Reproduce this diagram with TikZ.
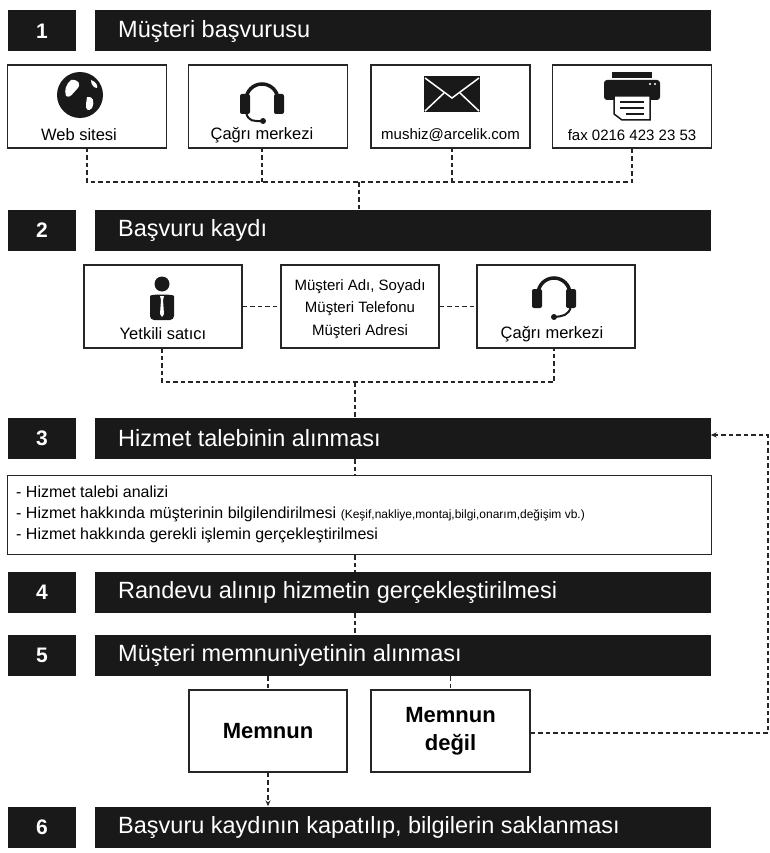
\documentclass[tikz,border=0pt]{standalone}
\usepackage{fontspec}
\setmainfont{Liberation Sans}
\usetikzlibrary{arrows.meta}
\begin{document}
\begin{tikzpicture}[x=1pt,y=-1pt,
  numbox/.style={fill=black!90,minimum width=68,minimum height=41,inner sep=0,text=white,font=\fontsize{21}{21}\selectfont\bfseries},
  bar/.style={fill=black!90,minimum width=616,minimum height=41,inner sep=0},
  bartext/.style={anchor=west,text=white,font=\fontsize{23.5}{23.5}\selectfont,inner sep=0},
  wbox/.style={draw=black!85,line width=1.3pt,fill=white,inner sep=0},
  lbl/.style={font=\fontsize{16.5}{16.5}\selectfont,inner sep=0},
  dsh/.style={dashed,dash pattern=on 4.5pt off 3pt,line width=1.5pt,black!85},
  ic/.style={fill=black!90,draw=none}]
\useasboundingbox (0,0) rectangle (770,853);
% bars
\foreach \n/\y/\t in {1/31/Müşteri başvurusu,2/230.5/Başvuru kaydı,3/438.5/Hizmet talebinin alınması,4/592.5/Randevu alınıp hizmetin gerçekleştirilmesi,5/655.5/Müşteri memnuniyetinin alınması,6/827/{Başvuru kaydının kapatılıp, bilgilerin saklanması}}{
  \node[numbox] (n\n) at (42,\y) {\n};
  \node[bar] (b\n) at (402.5,\y) {};
  \node[bartext] (t\n) at (118,\y) {\t};
}
% row 1
\node[wbox,minimum width=159,minimum height=83] (w) at (87,106.5) {};
\node[wbox,minimum width=159,minimum height=83] (c) at (268,106.5) {};
\node[wbox,minimum width=159,minimum height=83] (m) at (450.5,106.5) {};
\node[wbox,minimum width=159,minimum height=83] (f) at (632,106.5) {};
\node[lbl] (wl) at (79,135) {Web sitesi};
\node[lbl] (cl) at (262,135) {Çağrı merkezi};
\node[lbl,font=\fontsize{15}{15}\selectfont] (ml) at (450.5,135) {mushiz@arcelik.com};
\node[lbl,font=\fontsize{15}{15}\selectfont] (fl) at (632,135) {fax 0216 423 23 53};
% globe
\fill[black!90] (80,95) circle (23);
\fill[white] (71,80) .. controls (78,79) and (82,84) .. (77,89) .. controls (73,93) and (70,99) .. (66,96) .. controls (64,90) and (66,84) .. (71,80);
\fill[white] (87,97) .. controls (93,96) and (95,101) .. (92,108) .. controls (89,112) and (85,110) .. (86,104) -- cycle;
\fill[white] (91,80) .. controls (96,82) and (98,85) .. (97,88) .. controls (94,88) and (91,85) .. (91,80);
% headset 1
\draw[line width=3.5pt,black!90] (246,100) arc (180:360:16);
\fill[ic,rounded corners=2] (240,94) rectangle (250,114);
\fill[ic,rounded corners=2] (274,94) rectangle (284,114);
\draw[line width=2pt,black!90] (246,112) .. controls (248,122) and (254,121) .. (262,121);
\fill[black!90] (263,121) circle (3);
% envelope
\fill[ic] (424,76) rectangle (480,112);
\draw[white,line width=1.5pt] (425,78) -- (452,98) -- (479,78);
\draw[white,line width=1.5pt] (425,111) -- (444,93) (479,111) -- (460,93);
% fax
\fill[ic] (612,72) rectangle (652,78);
\fill[ic,rounded corners=3] (604,80) rectangle (660,100);
\fill[white] (650,84) circle (1.2) (655,84) circle (1.2);
\filldraw[fill=white,draw=black!90,line width=1.5pt] (614,96) -- (650,96) -- (650,120) -- (622,120) -- (614,114) -- cycle;
\draw[black!90,line width=1.8pt] (620,102) -- (644,102) (620,108) -- (644,108) (626,114) -- (644,114);
% dashed row 1
\coordinate (j1) at (359,182);
\draw[dsh] (87,148) -- (87,182) -- (632,182) -- (632,148);
\draw[dsh] (262,148) -- (262,182);
\draw[dsh] (452,148) -- (452,182);
\draw[dsh] (j1) -- (b2.north -| j1);
% row 2
\node[wbox,minimum width=158,minimum height=83] (y) at (163,306.5) {};
\node[wbox,minimum width=158,minimum height=83] (d) at (360,306.5) {};
\node[wbox,minimum width=158,minimum height=83] (c2) at (556,306.5) {};
\node[lbl] (yl) at (163,334) {Yetkili satıcı};
\node[lbl,align=center,font=\fontsize{15}{22.5}\selectfont] (dl) at (360,309) {Müşteri Adı, Soyadı\\Müşteri Telefonu\\Müşteri Adresi};
\node[lbl] (c2l) at (552,334) {Çağrı merkezi};
\draw[dsh] (y.east) -- (d.west) (d.east) -- (c2.west);
% person
\fill[black!90] (162,284) circle (7.5);
\fill[black!90,rounded corners=4] (150,320) -- (150,300) .. controls (150,294) and (174,294) .. (174,300) -- (174,320) -- cycle;
\fill[white] (160,296) -- (164,296) -- (163,300) -- (164,314) -- (162,317) -- (160,314) -- (161,300) -- cycle;
% headset 2
\draw[line width=3.5pt,black!90] (538,294) arc (180:360:16);
\fill[ic,rounded corners=2] (532,289) rectangle (542,308);
\fill[ic,rounded corners=2] (566,289) rectangle (576,308);
\draw[line width=2pt,black!90] (571,306) .. controls (569,316) and (562,316) .. (555,317);
\fill[black!90] (554,317) circle (3);
% dashed row 2
\coordinate (j2) at (355,382);
\draw[dsh] (162,348) -- (162,382) -- (554,382) -- (554,348);
\draw[dsh] (j2) -- (b3.north -| j2);
% text box
\node[wbox,minimum width=704,minimum height=79,anchor=north west] (tb) at (7,475) {};
\node[anchor=west,align=left,inner sep=0,font=\fontsize{16}{21}\selectfont] (tbt) at (16,514) {- Hizmet talebi analizi\\- Hizmet hakkında müşterinin bilgilendirilmesi {\fontsize{12}{12}\selectfont(Keşif,nakliye,montaj,bilgi,onarım,değişim vb.)}\\- Hizmet hakkında gerekli işlemin gerçekleştirilmesi};
\draw[dsh] (b3.south -| j2) -- (tb.north -| j2);
\draw[dsh] (tb.south -| j2) -- (b4.north -| j2);
\draw[dsh] (b4.south -| j2) -- (b5.north -| j2);
% memnun
\node[wbox,minimum width=158,minimum height=82,font=\fontsize{22}{26}\selectfont\bfseries] (mm) at (268,731) {Memnun};
\node[wbox,minimum width=159,minimum height=82,align=center,font=\fontsize{22}{28}\selectfont\bfseries] (md) at (450.5,731) {Memnun\\değil};
\draw[dsh] (b5.south -| mm) -- (mm.north);
\draw[dsh] (b5.south -| md) -- (md.north);
\draw[dsh,-{Stealth[length=6pt,width=5pt]}] (mm.south) -- (b6.north -| mm);
\coordinate (fb1) at (768,733);
\coordinate (fb2) at (768,435);
\draw[dsh,-{Stealth[length=6pt,width=5pt]}] (md.east |- fb1) -- (fb1) -- (fb2) -- (b3.east |- fb2);
\end{tikzpicture}
\end{document}
